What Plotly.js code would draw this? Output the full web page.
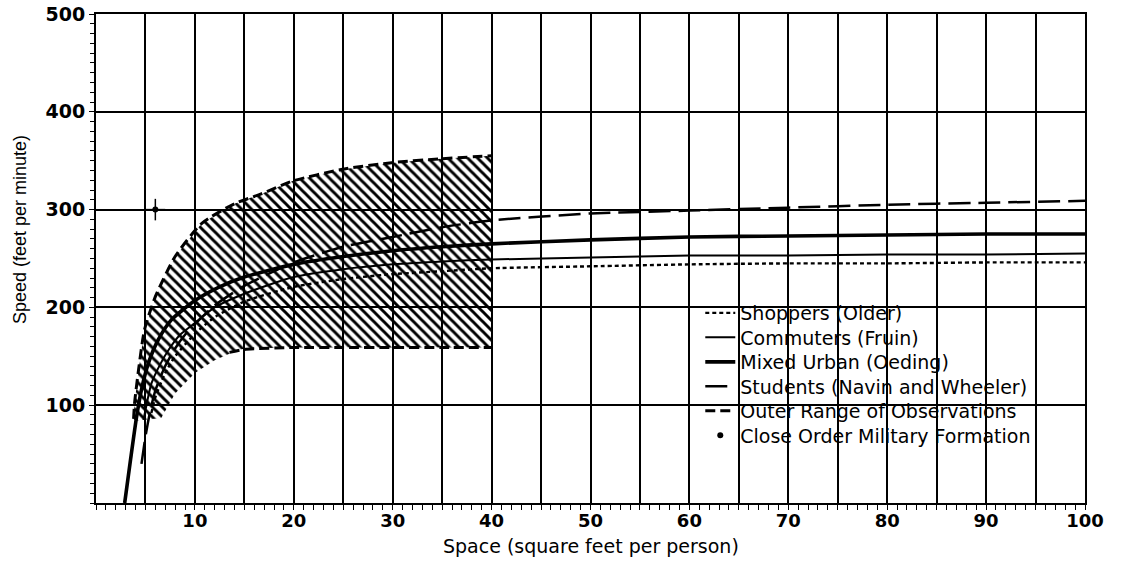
<!DOCTYPE html>
<html>
<head>
<meta charset="utf-8">
<script src="https://cdn.plot.ly/plotly-3.0.1.min.js"></script>
<style>html,body{margin:0;padding:0;background:#fff;}#chart{width:1122px;height:563px;}</style>
</head>
<body>
<div id="chart"></div>
<script>
// ---- data ----
const shoppersX = [5.6, 6, 7, 8, 10, 12, 15, 20, 25, 30, 35, 40, 50, 60, 70, 80, 90, 100];
const shoppersY = [92, 108, 133, 150, 173, 190, 206, 221, 229, 234, 237, 240, 242, 244, 245, 245, 246, 246];

const commutersX = [4.8, 5, 5.6, 6.5, 7.3, 8.5, 10, 12, 15, 20, 25, 30, 35, 40, 50, 60, 70, 80, 90, 100];
const commutersY = [85, 95, 122, 142, 156, 172, 184, 200, 214, 231, 239, 244, 247, 249, 251, 253, 253, 254, 254, 255];

const mixedX = [2.9, 3.5, 4.1, 4.6, 5.3, 6.3, 7.6, 10, 12.5, 15, 20, 25, 30, 35, 40, 50, 60, 70, 80, 90, 100];
const mixedY = [0, 45, 88, 116, 143, 167, 187, 207, 221, 231, 244, 252, 258, 262, 265, 269, 272, 273, 274, 275, 275];

const studentsX = [4.6, 5, 5.5, 6, 7, 8, 9, 10, 12, 15, 20, 25, 30, 35, 40, 50, 60, 70, 80, 90, 100];
const studentsY = [40, 68, 95, 115, 140, 158, 172, 183, 202, 222, 246, 262, 272, 282, 289, 296, 299, 302, 305, 307, 309];

const outerUpperX = [3.8, 3.9, 4.3, 4.9, 6, 8, 10.7, 14, 16.7, 19.8, 24.8, 29.9, 34.9, 40];
const outerUpperY = [86, 102, 136, 177, 211, 252, 286, 306, 316, 329, 341, 348, 352, 355];
const outerLowerX = [13.5, 15, 20, 25, 30, 35, 40];
const outerLowerY = [154, 157, 159, 159, 159, 159, 159];

// lower edge of the hatched band (right to left)
const hatchLowerX = [40, 30, 20, 15, 14, 12, 10, 8, 6.6, 4.0];
const hatchLowerY = [159, 159, 159, 158, 155, 146, 133, 112, 87, 84];

const militaryX = [6];
const militaryY = [300];
const militaryErrX = [1];
const militaryErrY = [11];

const seriesNames = ['Shoppers (Older)', 'Commuters (Fruin)', 'Mixed Urban (Oeding)',
  'Students (Navin and Wheeler)', 'Outer Range of Observations', 'Close Order Military Formation'];

const xTickVals = [5,10,15,20,25,30,35,40,45,50,55,60,65,70,75,80,85,90,95,100];
const xTickText = ['', '10', '', '20', '', '30', '', '40', '', '50', '', '60', '', '70', '', '80', '', '90', '', '100'];
const yTickVals = [100, 200, 300, 400, 500];
const yTickText = ['100', '200', '300', '400', '500'];

const xTitle = 'Space (square feet per person)';
const yTitle = 'Speed (feet per minute)';

// ---- traces ----
const hatch = {
  x: outerUpperX.concat(hatchLowerX),
  y: outerUpperY.concat(hatchLowerY),
  mode: 'lines', fill: 'toself',
  fillcolor: 'rgba(255,255,255,0)',
  fillpattern: {shape: '\\', size: 7, solidity: 0.42, fgcolor: '#000', fgopacity: 1, bgcolor: 'rgba(255,255,255,0)'},
  line: {width: 0, color: 'rgba(0,0,0,0)'},
  hoverinfo: 'skip', showlegend: false
};
const sp = {shape: 'spline', smoothing: 0.6};
const shoppers = {x: shoppersX, y: shoppersY, mode: 'lines', name: seriesNames[0], legend: 'legend',
  line: Object.assign({color: '#000', width: 2.4, dash: '4px,3px'}, sp)};
const commuters = {x: commutersX, y: commutersY, mode: 'lines', name: seriesNames[1], legend: 'legend2',
  line: Object.assign({color: '#000', width: 2}, sp)};
const mixed = {x: mixedX, y: mixedY, mode: 'lines', name: seriesNames[2], legend: 'legend3',
  line: Object.assign({color: '#000', width: 3.6}, sp)};
const students = {x: studentsX, y: studentsY, mode: 'lines', name: seriesNames[3], legend: 'legend4',
  line: Object.assign({color: '#000', width: 2.5, dash: '22px,8px'}, sp)};
const outerUp = {x: outerUpperX, y: outerUpperY, mode: 'lines', name: seriesNames[4], legend: 'legend5',
  legendgroup: 'outer', line: Object.assign({color: '#000', width: 3, dash: '10px,5px'}, sp)};
const outerLow = {x: outerLowerX, y: outerLowerY, mode: 'lines', name: seriesNames[4], legend: 'legend5',
  legendgroup: 'outer', showlegend: false, line: Object.assign({color: '#000', width: 3, dash: '10px,5px'}, sp)};
const military = {x: militaryX, y: militaryY, mode: 'markers', name: seriesNames[5], legend: 'legend6',
  marker: {color: '#000', size: 6, symbol: 'circle'},
  error_x: {type: 'data', array: militaryErrX, visible: true, width: 0, thickness: 1.5, color: '#000'},
  error_y: {type: 'data', array: militaryErrY, visible: true, width: 0, thickness: 1.5, color: '#000'}};

const data = [hatch, shoppers, commuters, mixed, students, outerUp, outerLow, military];

// one legend per row so the row spacing can follow the reference
const legendFont = {size: 19, family: '"DejaVu Sans", sans-serif', color: '#000'};
const rowCenters = [313, 337.5, 362, 386.5, 411, 435.5]; // pixel rows
const plotTop = 14, plotBottom = 503, plotH = plotBottom - plotTop;
function legendAt(py) {
  return {x: 0.611, xanchor: 'left', y: (plotBottom - py) / plotH, yanchor: 'middle',
    bgcolor: 'rgba(0,0,0,0)', borderwidth: 0, font: legendFont, itemwidth: 30, tracegroupgap: 0};
}

const tickFontX = {size: 18, family: '"DejaVu Sans", sans-serif', weight: 'bold', color: '#000'};
const tickFontY = {size: 19, family: '"DejaVu Sans", sans-serif', weight: 'bold', color: '#000'};

const layout = {
  width: 1122, height: 563,
  margin: {l: 96, r: 37, t: plotTop, b: 563 - plotBottom},
  paper_bgcolor: '#fff', plot_bgcolor: '#fff',
  font: {family: '"DejaVu Sans", sans-serif', color: '#000', size: 16},
  showlegend: true,
  legend: legendAt(rowCenters[0]),
  legend2: legendAt(rowCenters[1]),
  legend3: legendAt(rowCenters[2]),
  legend4: legendAt(rowCenters[3]),
  legend5: legendAt(rowCenters[4]),
  legend6: legendAt(rowCenters[5]),
  xaxis: {
    range: [0, 100], tickmode: 'array', tickvals: xTickVals, ticktext: xTickText,
    showgrid: true, gridcolor: '#000', gridwidth: 2,
    ticks: 'outside', ticklen: 5, tickwidth: 1, tickcolor: '#000',
    minor: {dtick: 1, ticks: 'outside', ticklen: 5, tickwidth: 1, tickcolor: '#000', showgrid: false},
    showline: true, linecolor: '#000', linewidth: 2, mirror: true,
    zeroline: true, zerolinecolor: '#000', zerolinewidth: 4,
    tickfont: tickFontX, ticklabelstandoff: -5,
    fixedrange: true
  },
  yaxis: {
    range: [0, 500], tickmode: 'array', tickvals: yTickVals, ticktext: yTickText,
    showgrid: true, gridcolor: '#000', gridwidth: 2,
    ticks: 'outside', ticklen: 5, tickwidth: 1, tickcolor: '#000',
    minor: {dtick: 10, ticks: 'outside', ticklen: 4, tickwidth: 1, tickcolor: '#000', showgrid: false},
    showline: true, linecolor: '#000', linewidth: 2, mirror: true,
    zeroline: true, zerolinecolor: '#000', zerolinewidth: 3,
    tickfont: tickFontY,
    fixedrange: true
  },
  annotations: [{
    text: yTitle, xref: 'paper', yref: 'paper',
    x: (20 - 96) / 989, y: (plotBottom - 230) / plotH, xanchor: 'center', yanchor: 'middle',
    textangle: -90, showarrow: false,
    font: {size: 18, family: '"Liberation Sans", Arial, sans-serif', color: '#000'}
  }, {
    text: xTitle, xref: 'paper', yref: 'paper',
    x: 0.5, y: (plotBottom - 546) / plotH, xanchor: 'center', yanchor: 'middle',
    showarrow: false,
    font: {size: 19, family: '"DejaVu Sans", sans-serif', color: '#000'}
  }]
};

Plotly.newPlot('chart', data, layout, {displayModeBar: false});
</script>
</body>
</html>
